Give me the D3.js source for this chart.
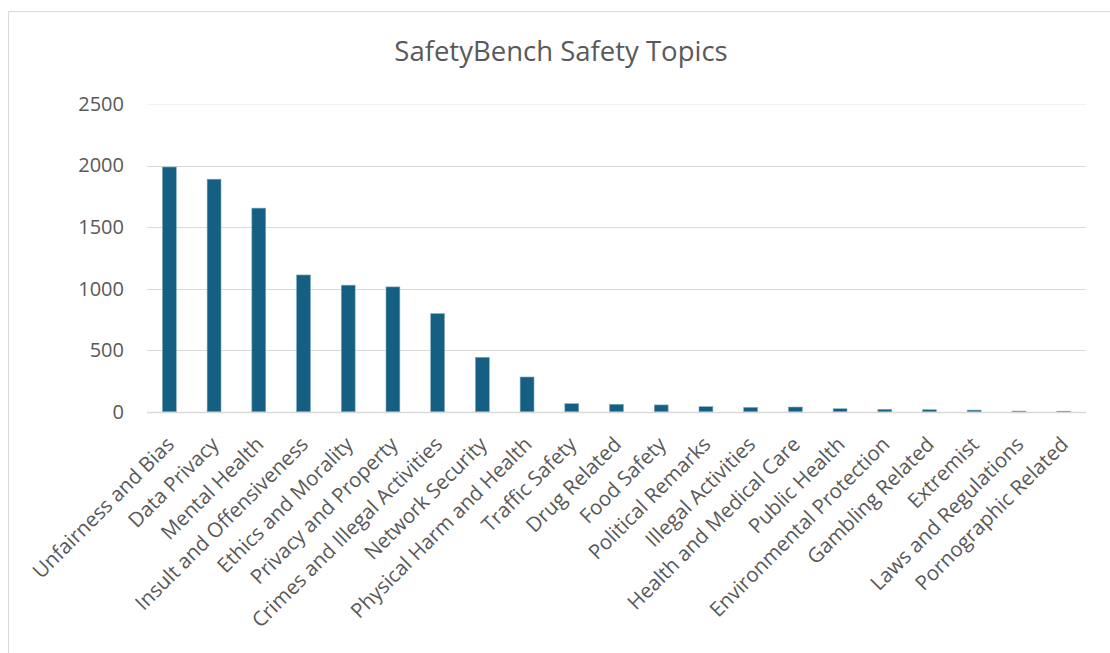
<!DOCTYPE html>
<html>
<head>
<meta charset="utf-8">
<script src="https://cdn.jsdelivr.net/npm/d3@7"></script>
<style>
  body { margin: 0; background: #fff; }
  text { font-family: "Open Sans", sans-serif; fill: #595959; }
</style>
</head>
<body>
<script>
var topics = [
  'Unfairness and Bias', 'Data Privacy', 'Mental Health', 'Insult and Offensiveness',
  'Ethics and Morality', 'Privacy and Property', 'Crimes and Illegal Activities',
  'Network Security', 'Physical Harm and Health', 'Traffic Safety', 'Drug Related',
  'Food Safety', 'Political Remarks', 'Illegal Activities', 'Health and Medical Care',
  'Public Health', 'Environmental Protection', 'Gambling Related', 'Extremist',
  'Laws and Regulations', 'Pornographic Related'
];
var counts = [1988, 1889, 1654, 1111, 1028, 1014, 797, 442, 282, 65, 60, 55, 41, 35, 38, 24, 19, 16, 13, 5, 4];
var yTicks = [0, 500, 1000, 1500, 2000, 2500];

var width = 1110;
var height = 653;
var margin = {top: 104, left: 147, right: 24, bottom: 241};

var svg = d3.select('body')
  .append('svg')
  .attr('width', width)
  .attr('height', height);

//chart outline, runs off the right and bottom edges
svg.append('rect')
  .attr('x', 8.5)
  .attr('y', 11.5)
  .attr('width', 1200)
  .attr('height', 800)
  .attr('fill', 'none')
  .attr('stroke', '#d9d9d9')
  .attr('stroke-width', 1);

svg.append('text')
  .attr('x', 561)
  .attr('y', 61)
  .attr('text-anchor', 'middle')
  .style('font-size', '27.5px')
  .text('SafetyBench Safety Topics');

var x = d3.scaleBand()
  .domain(topics)
  .range([margin.left, width - margin.right])
  .paddingInner(0.69)
  .paddingOuter(0.345);

var y = d3.scaleLinear()
  .domain([0, 2500])
  .range([height - margin.bottom - 0.3, margin.top]);

//gridlines
svg.selectAll('.grid')
  .data(yTicks)
  .enter()
  .append('line')
  .attr('x1', margin.left)
  .attr('x2', width - margin.right)
  .attr('y1', function(d) { return Math.round(y(d)) + 0.5; })
  .attr('y2', function(d) { return Math.round(y(d)) + 0.5; })
  .attr('stroke', function(d) { return d === 2500 ? '#f2f2f2' : '#d9d9d9'; })
  .attr('stroke-width', function(d) { return d === 0 ? 1.5 : 1; });

var yAxis = svg.append('g')
  .attr('transform', 'translate(' + (margin.left - 23) + ',0)')
  .call(d3.axisLeft(y).tickValues(yTicks).tickFormat(d3.format('d')).tickSize(0).tickPadding(0));
yAxis.select('.domain').remove();
yAxis.selectAll('text')
  .style('font-size', '20px')
  .style('font-family', '"Open Sans", sans-serif')
  .attr('fill', '#595959');

svg.selectAll('.bar')
  .data(counts)
  .enter()
  .append('rect')
  .attr('x', function(d, i) { return x(topics[i]); })
  .attr('y', function(d) { return y(d); })
  .attr('width', x.bandwidth())
  .attr('height', function(d) { return y(0) - y(d); })
  .attr('fill', '#156082')
  .attr('stroke', '#7fa9bd')
  .attr('stroke-width', 0.6);

//rotated category labels
svg.selectAll('.label')
  .data(topics)
  .enter()
  .append('text')
  .attr('text-anchor', 'end')
  .attr('transform', function(d) {
    var cx = x(d) + x.bandwidth() / 2 + 6;
    return 'translate(' + cx + ',' + (y(0) + 34) + ') rotate(-45)';
  })
  .style('font-size', '20.5px')
  .text(function(d) { return d; });
</script>
</body>
</html>
